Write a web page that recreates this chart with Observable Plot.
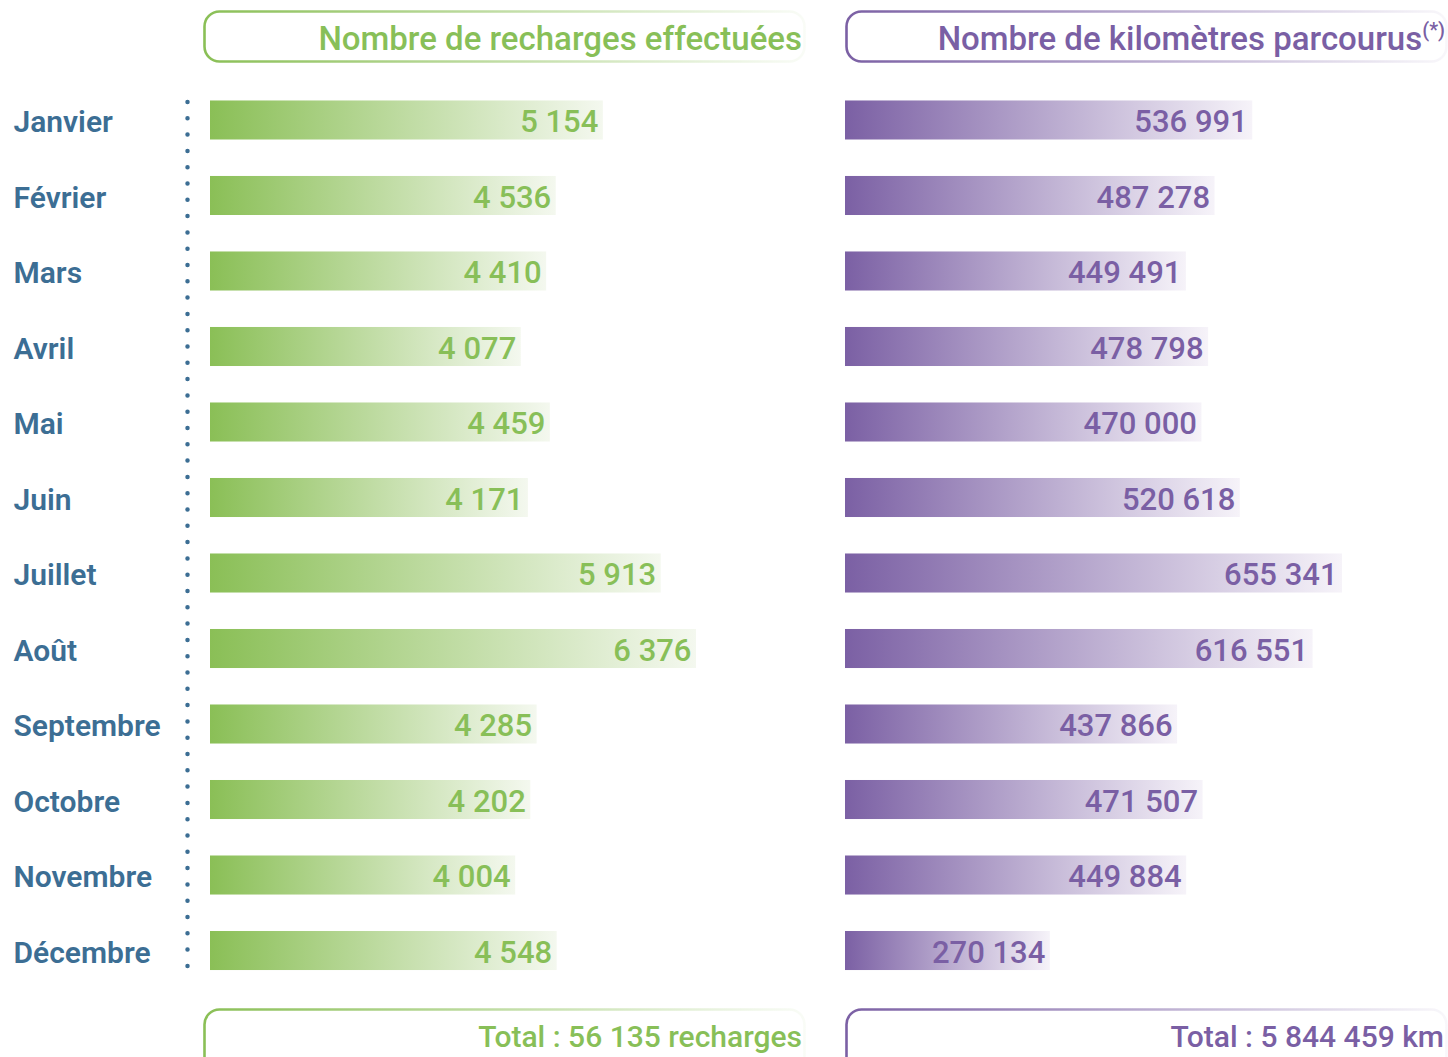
<!DOCTYPE html>
<html><head><meta charset="utf-8">
<script src="https://cdn.jsdelivr.net/npm/d3@7"></script>
<script src="https://cdn.jsdelivr.net/npm/@observablehq/plot@0.6"></script>
<style>
body{margin:0;background:#fff;}
#wrap{position:relative;width:1448px;height:1057px;overflow:hidden;font-family:Roboto,sans-serif;}
#left{position:absolute;left:0;top:0;}
#right{position:absolute;left:830px;top:0;}
</style></head><body>
<div id="wrap"><div id="left"></div><div id="right"></div></div>
<script>
const months = ["Janvier","Février","Mars","Avril","Mai","Juin","Juillet","Août","Septembre","Octobre","Novembre","Décembre"];
const recharges = [5154,4536,4410,4077,4459,4171,5913,6376,4285,4202,4004,4548];
const kilometres = [536991,487278,449491,478798,470000,520618,655341,616551,437866,471507,449884,270134];
const titleLeft = "Nombre de recharges effectuées";
const titleRight = "Nombre de kilomètres parcourus";
const titleRightNote = "(*)";
const unitLeft = "recharges";
const unitRight = "km";

const GREEN = "#88bf58", PURPLE = "#7a5fa4", BLUE = "#3c6e94";
const FONT = "Roboto, sans-serif";
const fr = d3.formatLocale({decimal:",", thousands:" ", grouping:[3], currency:["","€"]});
const fmt = fr.format(",d");

const rowsL = months.map((m,i)=>({month:m, value:recharges[i]}));
const rowsR = months.map((m,i)=>({month:m, value:kilometres[i]}));

function addGrad(svg, id, c0, c1, o1){
  let defs = svg.select("defs");
  if (defs.empty()) defs = svg.insert("defs", ":first-child");
  const g = defs.append("linearGradient").attr("id", id).attr("x1",0).attr("x2",1).attr("y1",0).attr("y2",0);
  g.append("stop").attr("offset","0%").attr("stop-color",c0);
  g.append("stop").attr("offset","100%").attr("stop-color",c1).attr("stop-opacity",o1);
}
function addBox(svg, x, y, w, h, grad){
  svg.append("rect").attr("x",x).attr("y",y).attr("width",w).attr("height",h).attr("rx",15)
    .attr("fill","none").attr("stroke",`url(#${grad})`).attr("stroke-width",2.6);
}
function addText(svg, x, y, text, color, size, note){
  const t = svg.append("text").attr("x",x).attr("y",y).attr("text-anchor","end")
    .attr("font-family",FONT).attr("font-size",size).attr("font-weight",500).attr("fill",color).text(text);
  if (note) t.append("tspan").attr("font-size",20).attr("dy",-13).text(note);
}

const common = {height:1057, marginTop:64, marginBottom:50.5, style:{fontFamily:FONT, background:"transparent", overflow:"visible"}};

const left = Plot.plot({
  ...common, width:830, marginLeft:210, marginRight:134,
  x:{domain:[0, d3.max(recharges)], axis:null},
  y:{domain:months, padding:0.483, round:false, label:null},
  marks:[
    Plot.axisY({tickSize:0, textAnchor:"start", dx:-188, dy:2, fontSize:30, fontWeight:600, fill:BLUE, label:null}),
    Plot.ruleX([0], {dx:-23, insetTop:38, insetBottom:38, stroke:BLUE, strokeWidth:4.5, strokeLinecap:"round", strokeDasharray:"0,16.3"}),
    Plot.barX(rowsL, {x:"value", y:"month", fill:"url(#gGreen)"}),
    Plot.text(rowsL, {x:"value", y:"month", text:d=>fmt(d.value), textAnchor:"end", dx:-5, dy:2, fontSize:31, fontWeight:500, fill:GREEN})
  ]
});
const ls = d3.select(left);
addGrad(ls, "gGreen", "#8abf56", "#f4f8ef", 1);
addGrad(ls, "hGreen", "#8abf56", "#8abf56", 0.05);
addBox(ls, 204.5, 11.5, 600, 50, "hGreen");
addText(ls, 802, 50, titleLeft, GREEN, 33);
addBox(ls, 204.5, 1009.5, 600, 70, "hGreen");
addText(ls, 802, 1047, `Total : ${fmt(d3.sum(recharges))} ${unitLeft}`, GREEN, 30);
document.getElementById("left").appendChild(left);

const right = Plot.plot({
  ...common, width:618, marginLeft:15, marginRight:106,
  x:{domain:[0, d3.max(kilometres)], axis:null},
  y:{domain:months, padding:0.483, round:false, axis:null},
  marks:[
    Plot.barX(rowsR, {x:"value", y:"month", fill:"url(#gPurple)"}),
    Plot.text(rowsR, {x:"value", y:"month", text:d=>fmt(d.value), textAnchor:"end", dx:-5, dy:2, fontSize:31, fontWeight:500, fill:PURPLE})
  ]
});
const rs = d3.select(right);
addGrad(rs, "gPurple", "#7b60a4", "#f6f3f9", 1);
addGrad(rs, "hPurple", "#7b60a4", "#7b60a4", 0.05);
addBox(rs, 16.5, 11.5, 600, 50, "hPurple");
addText(rs, 615, 50, titleRight, PURPLE, 33, titleRightNote);
addBox(rs, 16.5, 1009.5, 600, 70, "hPurple");
addText(rs, 614, 1047, `Total : ${fmt(d3.sum(kilometres))} ${unitRight}`, PURPLE, 30);
document.getElementById("right").appendChild(right);
</script>
</body></html>
